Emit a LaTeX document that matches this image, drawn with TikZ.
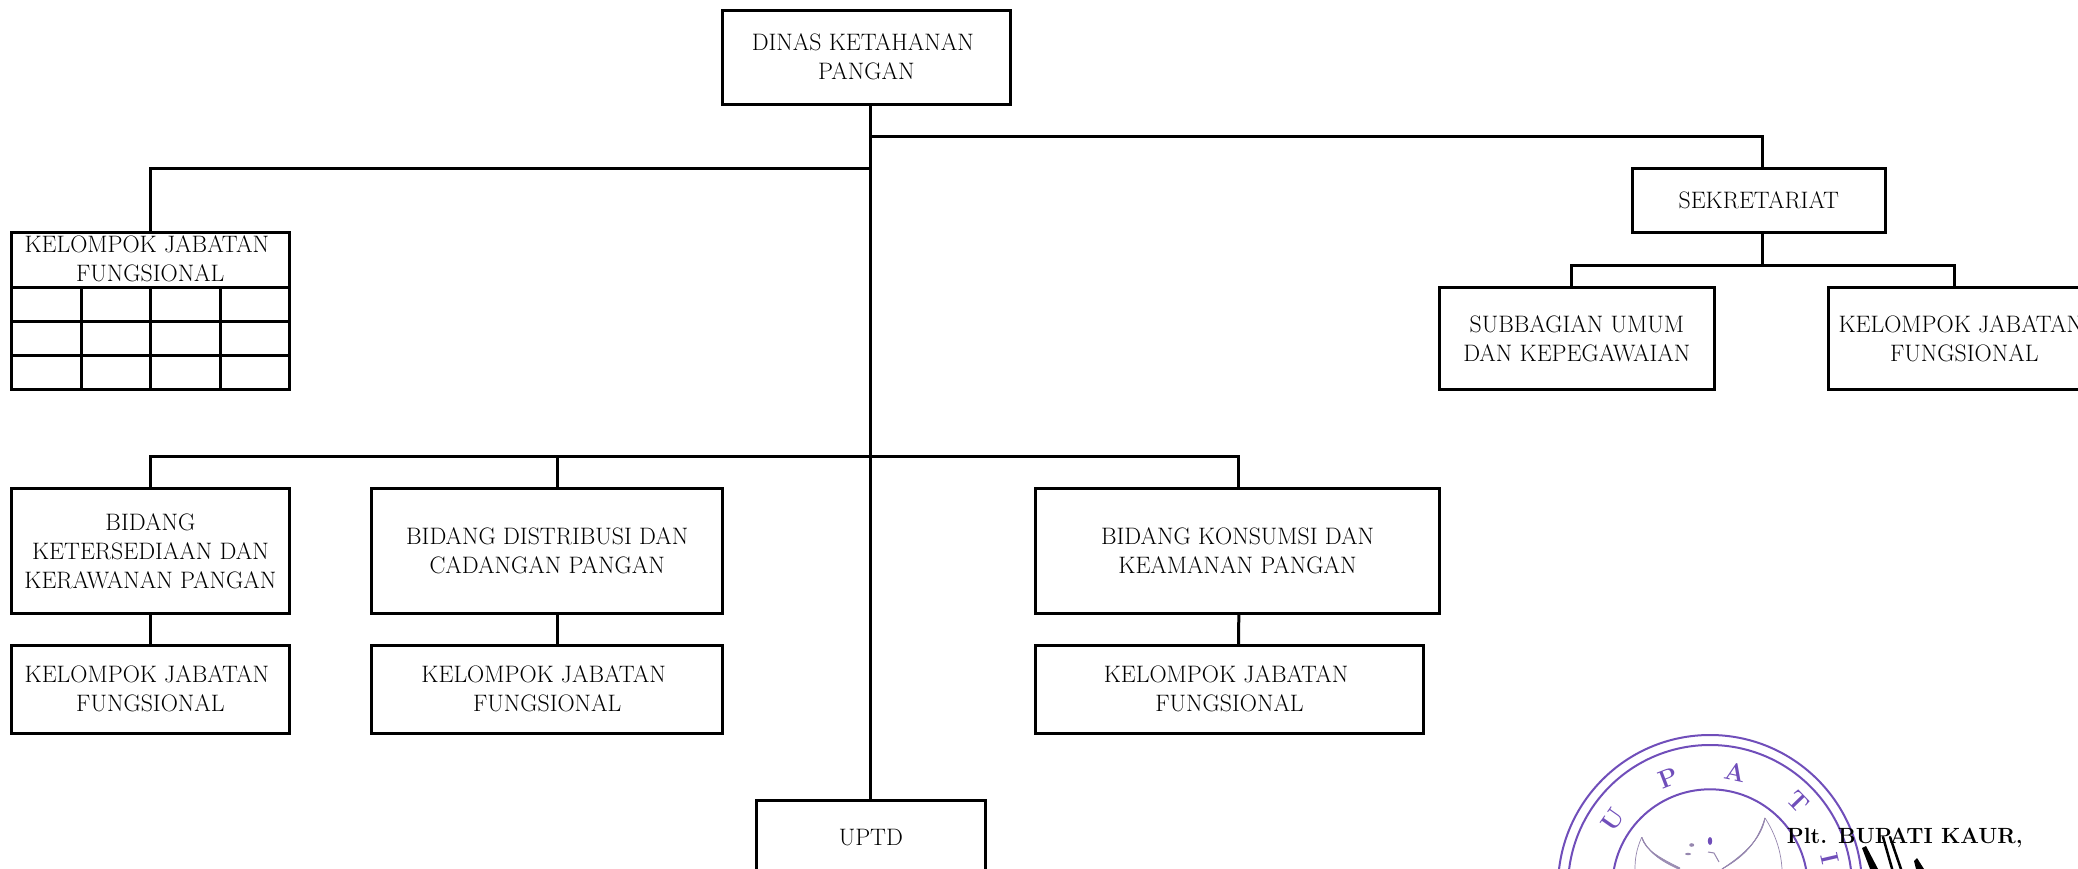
\documentclass[tikz,border=0pt]{standalone}
\definecolor{stamp}{RGB}{112,78,186}
\definecolor{eagle}{RGB}{150,135,175}
\newcommand{\labfont}{\fontsize{23.8}{29}\selectfont}
\newcommand{\orgbox}[7]{%
  \pgfmathsetmacro\bw{#4-#2}\pgfmathsetmacro\bh{#5-#3}%
  \pgfmathsetmacro\bx{(#2+#4)/2}\pgfmathsetmacro\by{(#3+#5)/2}%
  \pgfmathsetmacro\bb{#6-#3+1}%
  \node[boxn] (#1) at (\bx,\by) {\parbox[c][\bh pt][t]{\bw pt}{\centering\rule{0pt}{\bb pt}#7}};}
\tikzset{
  boxn/.style={draw=black,line width=3pt,inner sep=0pt,outer sep=0pt,fill=white,font=\labfont},
  conn/.style={draw=black,line width=3pt,line join=miter},
  ring/.style={draw=stamp,line width=2pt},
  seal/.style={text=stamp,inner sep=0pt,font=\fontsize{25}{25}\selectfont\bfseries},
  wing/.style={draw=eagle,line width=.7pt},
  sign/.style={draw=black,line cap=round},
}
\begin{document}
\begin{tikzpicture}[x=1pt,y=-1pt]
\clip (0,0) rectangle (2078,869);
\fill[white] (0,0) rectangle (2078,869);
% seal
\coordinate (sc) at (1710,887);
\draw[ring] (sc) circle[radius=152];
\draw[ring] (sc) circle[radius=142];
\draw[ring] (sc) circle[radius=97.7];
\node[seal,rotate=55] (lu) at (1613,820) {U};
\node[seal,rotate=21] (lp) at (1668,778) {P};
\node[seal,rotate=-12] (la) at (1735,772) {A};
\node[seal,rotate=-46] (lt) at (1798,802) {T};
\node[seal,rotate=-77] (li) at (1830,859) {I};
% eagle
\foreach \d in {0,3,6,9}{
  \draw[wing] (1641.7,837.3) .. controls (1645+\d*.4,850+\d*.3) and (1660,858+\d*.3) .. (1680,868+\d*.2);
  \draw[wing] (1765,818) .. controls (1762-\d*.4,836+\d*.3) and (1748,852+\d*.3) .. (1722,869);
}
\draw[wing] (1641.7,837.3) .. controls (1636,850) and (1635,860) .. (1635,869);
\draw[wing] (1765,818) .. controls (1776,835) and (1781,852) .. (1782,869);
\fill[stamp] (1710,841) ellipse[x radius=2.2,y radius=4];
\fill[eagle] (1691.7,845) ellipse[x radius=2.5,y radius=1.8];
\fill[eagle] (1688,854) ellipse[x radius=3,y radius=1.2];
\draw[wing,line width=1pt] (1708,852) -- (1714,853) -- (1719,862);
% boxes
\orgbox{top}{722}{10.7}{1010.7}{104.7}{50}{DINAS KETAHANAN\kern7pt\\PANGAN}
\orgbox{uptd}{756.5}{800.3}{985.2}{900}{844}{UPTD}
\orgbox{sek}{1632.6}{168.7}{1885}{232.7}{208}{SEKRETARIAT}
\orgbox{sub}{1439.3}{287.7}{1714.4}{389}{331}{SUBBAGIAN UMUM\\DAN KEPEGAWAIAN}
\orgbox{kr}{1828.5}{287.7}{2100}{389}{331}{KELOMPOK JABATAN\kern7pt\\FUNGSIONAL}
\orgbox{grp}{11.5}{232.5}{289}{389}{251.7}{KELOMPOK JABATAN\kern7pt\\FUNGSIONAL}
\orgbox{b1}{11.5}{488.5}{289.3}{613.3}{529}{BIDANG\\KETERSEDIAAN DAN\\KERAWANAN PANGAN}
\orgbox{b1k}{11.5}{645.7}{289.3}{733.3}{681.7}{KELOMPOK JABATAN\kern7pt\\FUNGSIONAL}
\orgbox{b2}{371.9}{488.5}{722.5}{613.3}{543}{BIDANG DISTRIBUSI DAN\\CADANGAN PANGAN}
\orgbox{b2k}{371.9}{645.7}{722.5}{733.3}{681.7}{KELOMPOK JABATAN\kern7pt\\FUNGSIONAL}
\orgbox{b3}{1035.3}{488.5}{1439.8}{613.3}{543}{BIDANG KONSUMSI DAN\\KEAMANAN PANGAN}
\orgbox{b3k}{1035.3}{645.7}{1423.7}{733.3}{681.7}{KELOMPOK JABATAN\kern7pt\\FUNGSIONAL}
% table rows in the functional group
\foreach \yy in {287,321,355}{\draw[conn] (grp.west |- 0,\yy) -- (grp.east |- 0,\yy);}
\foreach \xx in {81,150.7,220}{\draw[conn] (\xx,287) -- (grp.south -| \xx,0);}
% connectors
\coordinate (jsek) at (870.8,136.5);
\coordinate (jgrp) at (870.8,168.5);
\coordinate (jbid) at (870.8,456);
\coordinate (jsub) at (1762,265.3);
\draw[conn] (top.south -| uptd.north) -- (uptd.north);
\draw[conn] (jsek) -| ([xshift=3.2pt]sek.north);
\draw[conn] (jgrp) -| (grp.north);
\draw[conn] (b1.north) |- (jbid);
\draw[conn] ([xshift=10.2pt]b2.north) -- ([xshift=10.2pt]b2.north |- jbid);
\draw[conn] (jbid) -| ([xshift=1.2pt]b3.north);
\draw[conn] ([xshift=3.2pt]sek.south) -- (jsub);
\draw[conn] ([xshift=-5.2pt]sub.north) |- (jsub);
\draw[conn] (jsub) -| ([xshift=-10pt]kr.north);
\draw[conn] (b1.south) -- (b1k.north);
\draw[conn] ([xshift=10.2pt]b2.south) -- ([xshift=10.2pt]b2k.north);
\draw[conn] ([xshift=1.2pt]b3.south) -- ([xshift=9.2pt]b3k.north);
% signature block
\node[anchor=base west,inner sep=0pt,font=\fontsize{22}{26}\selectfont\bfseries] (plt) at (1786.7,843.3) {Plt. BUPATI KAUR,};
\fill[black] (1862,848) -- (1866,846) -- (1878,869) -- (1870,869) -- cycle;
\draw[sign,line width=2.5pt] (1883,837) -- (1893,872);
\draw[sign,line width=2.5pt] (1890,837) -- (1902,872);
\fill[black] (1914,861) -- (1917,858) -- (1924,869) -- (1916,869) -- cycle;
\end{tikzpicture}
\end{document}
